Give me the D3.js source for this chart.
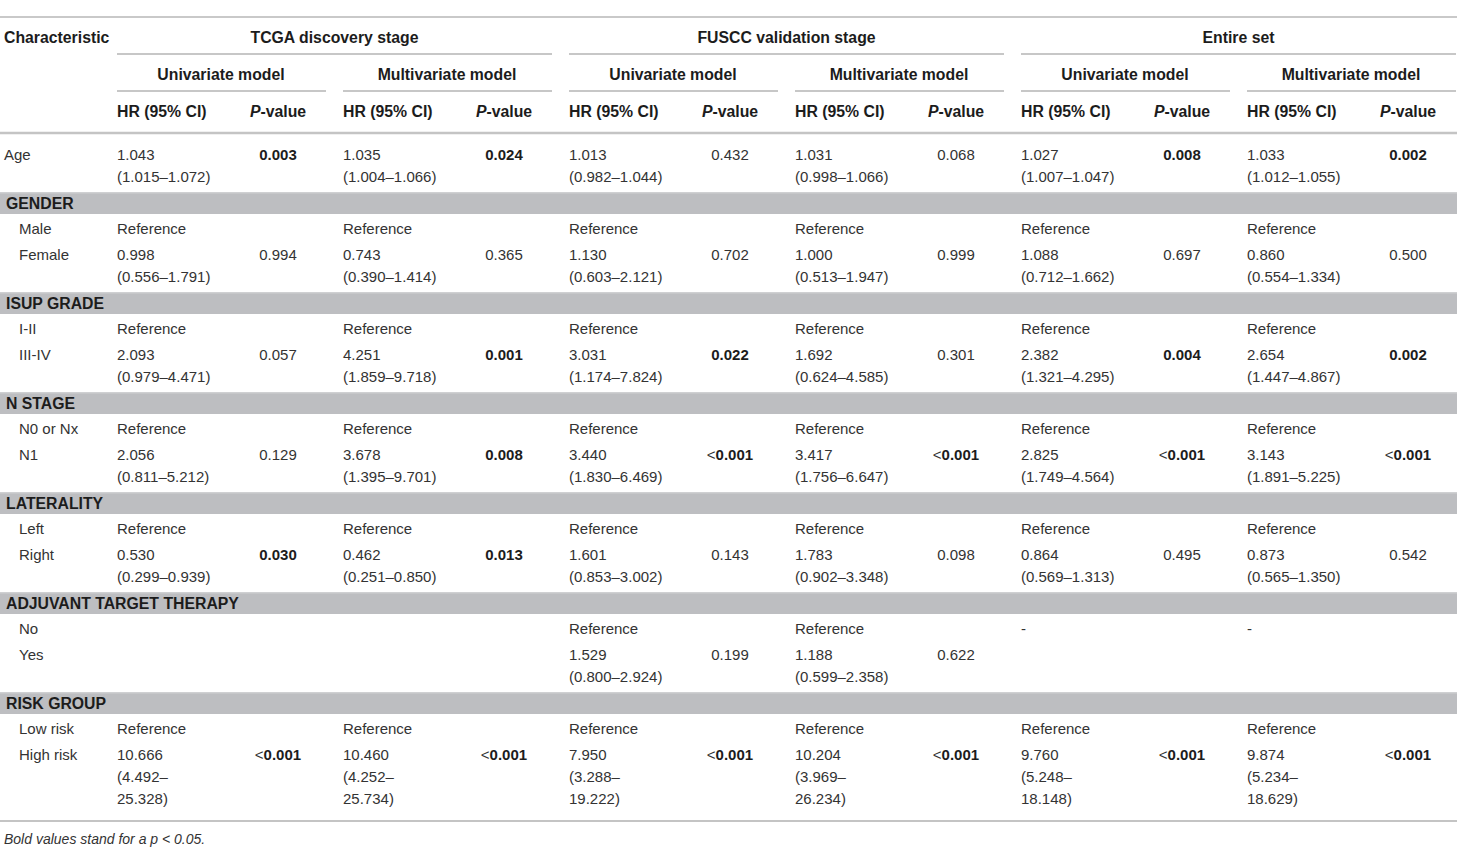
<!DOCTYPE html>
<html>
<head>
<meta charset="utf-8">
<script src="https://cdn.jsdelivr.net/npm/d3@7"></script>
<style>
  body { margin: 0; background: #fff; }
  svg text { font-family: "Liberation Sans", Arial, Helvetica, sans-serif; font-size: 15px; fill: #333; }
  svg text.bold { font-weight: bold; fill: #1c1c1c; }
  svg text.head { font-size: 15.8px; }
</style>
</head>
<body>
<div id="table"></div>
<script>
// column headers
const groups = ['TCGA discovery stage', 'FUSCC validation stage', 'Entire set'];
const models = ['Univariate model', 'Multivariate model'];

// sections and their levels
const sections = [
  { title: null, levels: ['Age'] },
  { title: 'GENDER', levels: ['Male', 'Female'] },
  { title: 'ISUP GRADE', levels: ['I-II', 'III-IV'] },
  { title: 'N STAGE', levels: ['N0 or Nx', 'N1'] },
  { title: 'LATERALITY', levels: ['Left', 'Right'] },
  { title: 'ADJUVANT TARGET THERAPY', levels: ['No', 'Yes'] },
  { title: 'RISK GROUP', levels: ['Low risk', 'High risk'] }
];

const R = 'Reference';
// one entry per level, six model columns each
const hrValues = {
  'Age':      ['1.043', '1.035', '1.013', '1.031', '1.027', '1.033'],
  'Male':     [R, R, R, R, R, R],
  'Female':   ['0.998', '0.743', '1.130', '1.000', '1.088', '0.860'],
  'I-II':     [R, R, R, R, R, R],
  'III-IV':   ['2.093', '4.251', '3.031', '1.692', '2.382', '2.654'],
  'N0 or Nx': [R, R, R, R, R, R],
  'N1':       ['2.056', '3.678', '3.440', '3.417', '2.825', '3.143'],
  'Left':     [R, R, R, R, R, R],
  'Right':    ['0.530', '0.462', '1.601', '1.783', '0.864', '0.873'],
  'No':       ['', '', R, R, '-', '-'],
  'Yes':      ['', '', '1.529', '1.188', '', ''],
  'Low risk': [R, R, R, R, R, R],
  'High risk':['10.666', '10.460', '7.950', '10.204', '9.760', '9.874']
};

const ciValues = {
  'Age':      ['1.015–1.072', '1.004–1.066', '0.982–1.044', '0.998–1.066', '1.007–1.047', '1.012–1.055'],
  'Female':   ['0.556–1.791', '0.390–1.414', '0.603–2.121', '0.513–1.947', '0.712–1.662', '0.554–1.334'],
  'III-IV':   ['0.979–4.471', '1.859–9.718', '1.174–7.824', '0.624–4.585', '1.321–4.295', '1.447–4.867'],
  'N1':       ['0.811–5.212', '1.395–9.701', '1.830–6.469', '1.756–6.647', '1.749–4.564', '1.891–5.225'],
  'Right':    ['0.299–0.939', '0.251–0.850', '0.853–3.002', '0.902–3.348', '0.569–1.313', '0.565–1.350'],
  'Yes':      ['', '', '0.800–2.924', '0.599–2.358', '', ''],
  'High risk':['4.492–25.328', '4.252–25.734', '3.288–19.222', '3.969–26.234', '5.248–18.148', '5.234–18.629']
};

const pValues = {
  'Age':      ['0.003', '0.024', '0.432', '0.068', '0.008', '0.002'],
  'Female':   ['0.994', '0.365', '0.702', '0.999', '0.697', '0.500'],
  'III-IV':   ['0.057', '0.001', '0.022', '0.301', '0.004', '0.002'],
  'N1':       ['0.129', '0.008', '<0.001', '<0.001', '<0.001', '<0.001'],
  'Right':    ['0.030', '0.013', '0.143', '0.098', '0.495', '0.542'],
  'Yes':      ['', '', '0.199', '0.622', '', ''],
  'High risk':['<0.001', '<0.001', '<0.001', '<0.001', '<0.001', '<0.001']
};

const footnote = 'Bold values stand for a p < 0.05.';

// ---- layout ----
const width = 1461, height = 850;
const tableRight = 1457;
const lineH = 22;
const colW = 209;

const svg = d3.select('#table').append('svg')
  .attr('width', width)
  .attr('height', height);

// six model columns: left edge of HR text
const colX = d3.scaleLinear().domain([0, 5]).range([117, 1247]);
const pCenter = i => colX(i) + 161;

function rule(y, x1, x2, color, w) {
  svg.append('line')
    .attr('x1', x1).attr('x2', x2)
    .attr('y1', y).attr('y2', y)
    .attr('stroke', color)
    .attr('stroke-width', w);
}

function label(x, y, txt, opts = {}) {
  let t = svg.append('text')
    .attr('x', x)
    .attr('y', y)
    .attr('dy', '0.35em')
    .attr('text-anchor', opts.anchor || 'start')
    .classed('bold', !!opts.bold)
    .classed('head', !!opts.head)
    .text(txt);
  if (opts.italic) t.style('font-style', 'italic');
  return t;
}

// header
rule(17, 0, tableRight, '#c9c9c9', 2);
label(4, 37, 'Characteristic', { bold: true, head: true });
groups.forEach((g, gi) => {
  let x1 = colX(gi * 2), x2 = colX(gi * 2 + 1) + colW;
  label((x1 + x2) / 2, 37, g, { bold: true, head: true, anchor: 'middle' });
  rule(54, x1, x2, '#b5b5b5', 1.5);
  models.forEach((m, mi) => {
    let c = gi * 2 + mi;
    label(colX(c) + colW / 2 - 0.5, 74, m, { bold: true, head: true, anchor: 'middle' });
    rule(91, colX(c), colX(c) + colW, '#b5b5b5', 1.5);
    label(colX(c), 111, 'HR (95% CI)', { bold: true, head: true });
    let pv = label(pCenter(c), 111, '', { bold: true, head: true, anchor: 'middle' });
    pv.append('tspan').style('font-style', 'italic').text('P');
    pv.append('tspan').text('-value');
  });
});
rule(133, 0, tableRight, '#c4c4c4', 2.5);

// body
let y = 155; // first line centre of Age row
let cursor = 132;
sections.forEach((sec) => {
  if (sec.title) {
    let top = cursor;
    svg.append('rect')
      .attr('x', 0).attr('y', top)
      .attr('width', tableRight).attr('height', 22)
      .attr('fill', '#bdbec1');
    rule(top + 0.75, 0, tableRight, '#cfd0d2', 1.5);
    label(6, top + 11, sec.title, { bold: true, head: true });
    y = top + 22 + 15;
  }
  sec.levels.forEach((lev, li) => {
    let indent = sec.title ? 19 : 4;
    label(indent, y, lev);
    let nLines = 1;
    hrValues[lev].forEach((hr, c) => {
      if (hr) label(colX(c), y, hr);
      let ci = ciValues[lev] ? ciValues[lev][c] : '';
      if (ci) {
        let txt = '(' + ci + ')';
        if (txt.length > 13) {
          let parts = ci.split('–');
          label(colX(c), y + lineH, '(' + parts[0] + '–');
          label(colX(c), y + lineH * 2, parts[1] + ')');
          nLines = Math.max(nLines, 3);
        } else {
          label(colX(c), y + lineH, txt);
          nLines = Math.max(nLines, 2);
        }
      }
      let p = pValues[lev] ? pValues[lev][c] : '';
      if (p) {
        let num = +p.replace('<', '');
        let sig = num < 0.05;
        let t = label(pCenter(c), y, '', { anchor: 'middle' });
        if (p.startsWith('<')) t.append('tspan').text('<');
        t.append('tspan')
          .style('font-weight', sig ? 'bold' : 'normal')
          .style('fill', sig ? '#1c1c1c' : '#333')
          .text(p.replace('<', ''));
      }
    });
    let last = y + lineH * (nLines - 1);
    if (li < sec.levels.length - 1) {
      y = last + 26;
    } else {
      cursor = last + 15;
    }
  });
});

// bottom rule + footnote
rule(cursor + 7, 0, tableRight, '#c4c4c4', 2);
label(4, cursor + 25, footnote, { italic: true }).style('font-size', '14px');
</script>
</body>
</html>
